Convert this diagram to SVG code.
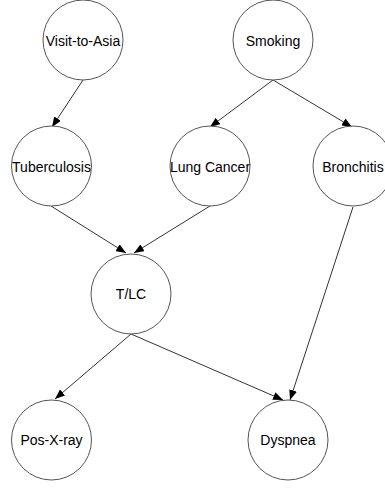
<svg xmlns="http://www.w3.org/2000/svg" width="385" height="488" viewBox="0 0 385 488">
  <style>
    .node circle { fill: #ffffff; stroke: #555555; stroke-width: 1; }
    .node text { font-family: "Liberation Sans", Arial, sans-serif; font-size: 14px; fill: #000000; text-anchor: middle; }
    .edges line { stroke: #333333; stroke-width: 1; marker-end: url(#arrow); }
  </style>
  <defs>
    <marker id="arrow" viewBox="0 0 10 8" refX="10" refY="4" markerWidth="10" markerHeight="8" markerUnits="userSpaceOnUse" orient="auto">
      <path d="M0,0 L10,4 L0,8 Z" fill="#000000"/>
    </marker>
  </defs>
  <rect width="385" height="488" fill="#ffffff"/>

  <g class="edges" id="edges">
    <line x1="83" y1="80" x2="52" y2="127"/>
    <line x1="273" y1="80" x2="210" y2="127"/>
    <line x1="273" y1="80" x2="352" y2="127"/>
    <line x1="51" y1="206" x2="126" y2="253"/>
    <line x1="210" y1="206" x2="134" y2="253"/>
    <line x1="131" y1="334" x2="55" y2="399"/>
    <line x1="131" y1="334" x2="283" y2="400"/>
    <line x1="353" y1="207" x2="290" y2="400"/>
  </g>

  <g class="node" id="visit-to-asia">
    <circle cx="83" cy="40" r="40"/>
    <text x="83" y="46">Visit-to-Asia</text>
  </g>
  <g class="node" id="smoking">
    <circle cx="273" cy="40" r="40"/>
    <text x="273" y="46">Smoking</text>
  </g>
  <g class="node" id="tuberculosis">
    <circle cx="51.5" cy="166" r="40"/>
    <text x="51.5" y="172">Tuberculosis</text>
  </g>
  <g class="node" id="lung-cancer">
    <circle cx="210" cy="166" r="40"/>
    <text x="210" y="172">Lung Cancer</text>
  </g>
  <g class="node" id="bronchitis">
    <circle cx="353" cy="166" r="40"/>
    <text x="353" y="172">Bronchitis</text>
  </g>
  <g class="node" id="tlc">
    <circle cx="131" cy="294" r="40"/>
    <text x="131" y="299">T/LC</text>
  </g>
  <g class="node" id="pos-x-ray">
    <circle cx="51.5" cy="440" r="40"/>
    <text x="51.5" y="445">Pos-X-ray</text>
  </g>
  <g class="node" id="dyspnea">
    <circle cx="288" cy="440" r="40"/>
    <text x="288" y="445">Dyspnea</text>
  </g>
</svg>
